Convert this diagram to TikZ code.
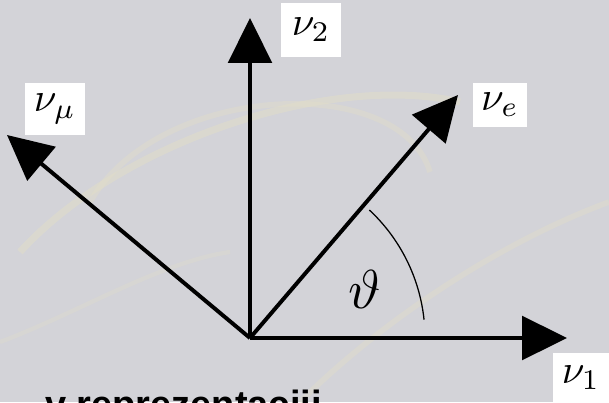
\documentclass[tikz,border=0pt]{standalone}
\usepackage{fontspec}
\usepackage{xcolor}
\usepackage{tikz}
\usetikzlibrary{arrows.meta, positioning}
\newfontfamily\capfont{Liberation Sans}
\definecolor{bggray}{RGB}{211,211,216}
\definecolor{trackcol}{RGB}{226,222,200}

\begin{document}
\begin{tikzpicture}[x=0.025cm, y=0.025cm, line cap=butt]
    % Frame
    \clip (0,0) rectangle (609,402);
    \fill[bggray] (0,0) rectangle (609,402);

    % Faint tracks
    \draw[trackcol, line width=5pt, opacity=0.5] (20,150) .. controls (120,260) and (330,330) .. (460,300);
    \draw[trackcol, line width=4pt, opacity=0.4] (90,200) .. controls (160,320) and (400,330) .. (430,230);
    \draw[trackcol, line width=4pt, opacity=0.4] (300,0) .. controls (380,80) and (500,160) .. (609,200);
    \draw[trackcol, line width=3pt, opacity=0.3] (0,60) .. controls (80,90) and (160,140) .. (230,150);

    % Axes
    \coordinate (origin) at (250,64);
    \coordinate (tipone) at (567,64);
    \coordinate (tiptwo) at (250,384);
    \coordinate (tipe) at (458,307);
    \coordinate (tipmu) at (7,267);

    \draw[line width=2.8pt, -{Triangle[length=32pt, width=31pt]}] (origin) -- (tipone);
    \draw[line width=2.8pt, -{Triangle[length=32pt, width=31pt]}] (origin) -- (tiptwo);
    \draw[line width=2.8pt, -{Triangle[length=32pt, width=31pt]}] (origin) -- (tipe);
    \draw[line width=2.8pt, -{Triangle[length=32pt, width=31pt]}] (origin) -- (tipmu);

    % Labels
    \node (nuone) [fill=white, minimum width=40pt, minimum height=35pt, inner sep=0pt] at (581,24) {\scalebox{2.9}{$\nu_1$}};
    \node (nutwo) [fill=white, minimum width=43pt, minimum height=38pt, inner sep=0pt] at (311,372) {\scalebox{2.9}{$\nu_2$}};
    \node (nue) [fill=white, minimum width=39pt, minimum height=31pt, inner sep=0pt] at (500,297) {\scalebox{2.9}{$\nu_e$}};
    \node (numu) [fill=white, minimum width=43pt, minimum height=37pt, inner sep=0pt] at (55,293) {\scalebox{2.9}{$\nu_\mu$}};

    % Angle
    \draw[line width=0.9pt] (origin) ++(6:175) arc[start angle=6, end angle=47, radius=175];
    \node (angle) at (365,113) {\scalebox{3.9}{$\vartheta$}};

    % Caption
    \node (caption) [anchor=north west, inner sep=0pt] at (45,12) {\capfont\bfseries\fontsize{27}{30}\selectfont v reprezentaciji};
\end{tikzpicture}
\end{document}
